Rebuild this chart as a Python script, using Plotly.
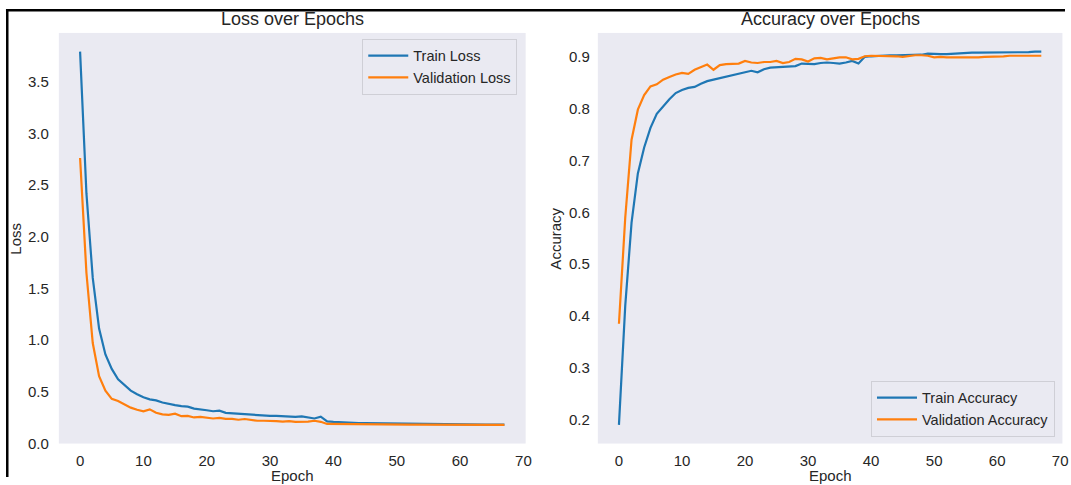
import plotly.graph_objects as go

# ---- training history (68 epochs) ----
epochs = list(range(68))

train_loss = [
    3.79, 2.42, 1.60, 1.11, 0.86, 0.72, 0.62, 0.56, 0.51, 0.475,
    0.445, 0.425, 0.415, 0.395, 0.38, 0.37, 0.36, 0.355, 0.335, 0.33,
    0.32, 0.31, 0.315, 0.295, 0.29, 0.285, 0.28, 0.28, 0.275, 0.265,
    0.265, 0.265, 0.26, 0.255, 0.255, 0.26, 0.25, 0.24, 0.258, 0.212,
    0.207, 0.203, 0.20, 0.198, 0.196, 0.195, 0.194, 0.193, 0.192, 0.191,
    0.19, 0.189, 0.188, 0.188, 0.188, 0.186, 0.185, 0.184, 0.184, 0.183,
    0.183, 0.182, 0.182, 0.182, 0.181, 0.181, 0.181, 0.181,
]

val_loss = [
    2.76, 1.65, 0.97, 0.65, 0.51, 0.43, 0.41, 0.375, 0.345, 0.325,
    0.31, 0.328, 0.295, 0.28, 0.275, 0.287, 0.262, 0.265, 0.25, 0.255,
    0.245, 0.24, 0.245, 0.237, 0.237, 0.228, 0.235, 0.225, 0.218, 0.218,
    0.22, 0.215, 0.21, 0.215, 0.207, 0.205, 0.21, 0.218, 0.208, 0.187,
    0.186, 0.185, 0.185, 0.184, 0.184, 0.184, 0.183, 0.182, 0.182, 0.182,
    0.182, 0.182, 0.181, 0.181, 0.181, 0.181, 0.180, 0.180, 0.180, 0.180,
    0.179, 0.179, 0.179, 0.179, 0.179, 0.178, 0.178, 0.178,
]

train_acc = [
    0.190, 0.42, 0.58, 0.675, 0.725, 0.763, 0.790, 0.805, 0.818, 0.830,
    0.836, 0.840, 0.842, 0.848, 0.853, 0.856, 0.859, 0.862, 0.865, 0.867,
    0.870, 0.873, 0.870, 0.876, 0.879, 0.880, 0.880, 0.881, 0.882, 0.887,
    0.887, 0.886, 0.888, 0.889, 0.888, 0.887, 0.889, 0.892, 0.887, 0.900,
    0.901, 0.902, 0.902, 0.903, 0.903, 0.903, 0.904, 0.904, 0.904, 0.906,
    0.905, 0.905, 0.905, 0.906, 0.906, 0.908, 0.908, 0.908, 0.908, 0.908,
    0.909, 0.909, 0.909, 0.908, 0.909, 0.909, 0.910, 0.910,
]

val_acc = [
    0.385, 0.590, 0.740, 0.798, 0.826, 0.843, 0.847, 0.856, 0.861, 0.866,
    0.869, 0.867, 0.875, 0.880, 0.885, 0.875, 0.884, 0.886, 0.887, 0.887,
    0.892, 0.889, 0.888, 0.890, 0.890, 0.892, 0.888, 0.890, 0.896, 0.895,
    0.891, 0.897, 0.898, 0.895, 0.897, 0.899, 0.899, 0.895, 0.896, 0.901,
    0.902, 0.902, 0.902, 0.902, 0.901, 0.900, 0.902, 0.903, 0.903, 0.902,
    0.899, 0.900, 0.899, 0.899, 0.899, 0.899, 0.898, 0.899, 0.900, 0.900,
    0.900, 0.901, 0.902, 0.902, 0.902, 0.902, 0.902, 0.902,
]

epoch_ticks = [0, 10, 20, 30, 40, 50, 60, 70]
loss_ticks = [0.0, 0.5, 1.0, 1.5, 2.0, 2.5, 3.0, 3.5]
acc_ticks = [0.2, 0.3, 0.4, 0.5, 0.6, 0.7, 0.8, 0.9]

# ---- page geometry (pixels) ----
W, H = 1071, 485
FONT = "Liberation Sans, Arial, Helvetica, sans-serif"
TXT = "#262626"
BLUE = "#1f77b4"
ORANGE = "#ff7f0e"
FACE = "#EAEAF2"


def fx(p):
    return p / W


def fy(p):
    return 1 - p / H


def padded(lo, hi, frac=0.05):
    span = hi - lo
    return [lo - frac * span, hi + frac * span]


x_range = padded(min(epochs), max(epochs))
loss_range = padded(min(train_loss + val_loss), max(train_loss + val_loss))
acc_range = padded(min(train_acc + val_acc), max(train_acc + val_acc))

fig = go.Figure()

fig.add_trace(go.Scatter(x=epochs, y=train_loss, mode="lines", name="Train Loss",
                         line=dict(color=BLUE, width=2.2), xaxis="x", yaxis="y",
                         legend="legend"))
fig.add_trace(go.Scatter(x=epochs, y=val_loss, mode="lines", name="Validation Loss",
                         line=dict(color=ORANGE, width=2.2), xaxis="x", yaxis="y",
                         legend="legend"))
fig.add_trace(go.Scatter(x=epochs, y=train_acc, mode="lines", name="Train Accuracy",
                         line=dict(color=BLUE, width=2.2), xaxis="x2", yaxis="y2",
                         legend="legend2"))
fig.add_trace(go.Scatter(x=epochs, y=val_acc, mode="lines", name="Validation Accuracy",
                         line=dict(color=ORANGE, width=2.2), xaxis="x2", yaxis="y2",
                         legend="legend2"))

plot_top, plot_bottom = 33.5, 451.0
left_l, left_r = 59.2, 528.6
right_l, right_r = 601.2, 1068.4

tickfont = dict(family=FONT, size=15, color=TXT)
common_x = dict(range=x_range, tickvals=epoch_ticks, showgrid=False, zeroline=False,
                showline=False, ticks="", tickfont=tickfont, ticklabelstandoff=6)
common_y = dict(showgrid=False, zeroline=False, showline=False, ticks="",
                tickfont=tickfont)

legend_font = dict(family=FONT, size=14.5, color=TXT)

fig.update_layout(
    width=W, height=H,
    margin=dict(l=0, r=0, t=0, b=0),
    paper_bgcolor="white",
    plot_bgcolor=FACE,
    font=dict(family=FONT, color=TXT),
    xaxis=dict(domain=[fx(left_l), fx(left_r)], anchor="y", **common_x),
    yaxis=dict(domain=[fy(plot_bottom), fy(plot_top)], anchor="x", range=loss_range,
               tickvals=loss_ticks, tickformat=".1f", ticklabelstandoff=9, **common_y),
    xaxis2=dict(domain=[fx(right_l), fx(right_r)], anchor="y2", **common_x),
    yaxis2=dict(domain=[fy(plot_bottom), fy(plot_top)], anchor="x2", range=acc_range,
                tickvals=acc_ticks, tickformat=".1f", ticklabelstandoff=7, **common_y),
    legend=dict(x=fx(364.3), y=fy(39.3), xanchor="left", yanchor="top",
                bgcolor=FACE, bordercolor="#cfcfd6", borderwidth=1,
                font=legend_font, itemwidth=40),
    legend2=dict(x=fx(875.9), y=fy(444.0), xanchor="left", yanchor="bottom",
                 bgcolor=FACE, bordercolor="#cfcfd6", borderwidth=1,
                 font=legend_font, itemwidth=40),
)

annotations = [
    dict(text="Loss over Epochs", x=fx((left_l + left_r) / 2), y=fy(19.5),
         yanchor="middle", font=dict(size=18)),
    dict(text="Accuracy over Epochs", x=fx((right_l + right_r) / 2), y=fy(19.5),
         yanchor="middle", font=dict(size=18)),
    dict(text="Epoch", x=fx((left_l + left_r) / 2), y=fy(472.5),
         yanchor="top", font=dict(size=15)),
    dict(text="Epoch", x=fx((right_l + right_r) / 2), y=fy(472.5),
         yanchor="top", font=dict(size=15)),
    dict(text="Loss", x=fx(15.5), y=fy((plot_top + plot_bottom) / 2), textangle=-90,
         yanchor="middle", font=dict(size=15)),
    dict(text="Accuracy", x=fx(558.5), y=fy((plot_top + plot_bottom) / 2), textangle=-90,
         yanchor="middle", font=dict(size=15)),
]
for a in annotations:
    a.update(xref="paper", yref="paper", xanchor="center", showarrow=False)
    a["font"].update(family=FONT, color=TXT)
fig.update_layout(annotations=annotations)

# black frame around the figure block
fig.update_layout(shapes=[
    dict(type="line", xref="paper", yref="paper", x0=fx(6.0), x1=1.0,
         y0=fy(10.3), y1=fy(10.3), line=dict(color="black", width=2.5)),
    dict(type="line", xref="paper", yref="paper", x0=fx(7.3), x1=fx(7.3),
         y0=fy(9.5), y1=0.0, line=dict(color="black", width=2.5)),
])

fig.write_html("out.html")
